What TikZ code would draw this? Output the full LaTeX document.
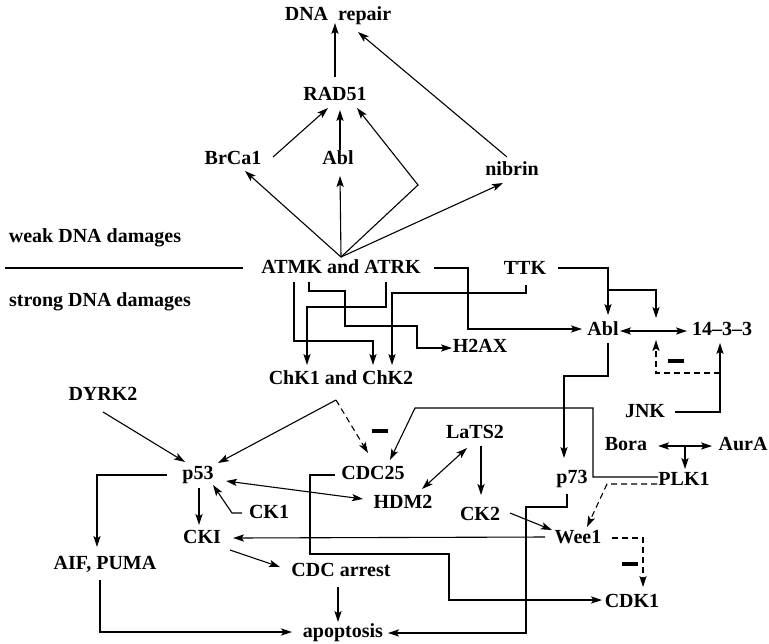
\documentclass[tikz,border=0pt]{standalone}
\usepackage{fontspec}
\setmainfont{Liberation Serif}
\usetikzlibrary{arrows.meta, calc}

\begin{document}
\begin{tikzpicture}[
    x=0.5pt, y=-0.5pt,
    >={Stealth[length=5.5pt, width=3.6pt, inset=1.2pt]},
    line width=0.55pt,
    gene/.style={font=\bfseries, inner sep=1.5pt, text height=7pt, text depth=2pt},
    zone/.style={gene, anchor=center},
    inhibit/.style={inner sep=0pt, font=\bfseries},
    neg/.style={dash pattern=on 3pt off 2pt},
]
\useasboundingbox (0,0) rectangle (769,643);

% ---- weak damage: repair branch ----
\node[gene] (dna)   at (338, 15)  {DNA\ \ repair};
\node[gene] (rad)   at (335, 95)  {RAD51};
\node[gene] (brca)  at (233,159)  {BrCa1};
\node[gene] (ablt)  at (338,159)  {Abl};
\node[gene] (nib)   at (512,170)  {nibrin};

\node[zone] (weak)   at ( 95,237) {weak DNA damages};
\node[zone] (strong) at (100,301) {strong DNA damages};

% ---- sensors ----
\node[gene] (atm)   at (341,268)  {ATMK and ATRK};
\node[gene] (ttk)   at (525,269)  {TTK};
\node[gene] (abl)   at (603,330)  {Abl};
\node[gene] (f1433) at (722,330)  {14--3--3};
\node[gene] (h2ax)  at (480,347)  {H2AX};
\node[gene] (chk)   at (341,379)  {ChK1 and ChK2};
\node[gene] (dyrk)  at (103,395)  {DYRK2};
\node[gene] (jnk)   at (645,412)  {JNK};
\node[gene] (lats)  at (475,433)  {LaTS2};
\node[gene] (bora)  at (626,445)  {Bora};
\node[gene] (aura)  at (743,445)  {AurA};

% ---- effectors ----
\node[gene] (p53)    at (198,474) {p53};
\node[gene] (cdc25)  at (373,474) {CDC25};
\node[gene] (p73)    at (572,478) {p73};
\node[gene] (plk)    at (684,480) {PLK1};
\node[gene] (hdm)    at (403,503) {HDM2};
\node[gene] (ck1)    at (269,513) {CK1};
\node[gene] (ck2)    at (480,515) {CK2};
\node[gene] (cki)    at (202,538) {CKI};
\node[gene] (wee)    at (578,538) {Wee1};
\node[gene] (aif)    at (105,564) {AIF, PUMA};
\node[gene] (arrest) at (341,571) {CDC arrest};
\node[gene] (cdk)    at (632,602) {CDK1};
\node[gene] (apo)    at (343,632) {apoptosis};

% ---- inhibition marks ----
\node[inhibit] (m1) at (380,431) {\rule{8pt}{1.7pt}};
\node[inhibit] (m2) at (676,361) {\rule{8pt}{1.7pt}};
\node[inhibit] (m3) at (630,564) {\rule{8pt}{1.7pt}};

% ---- divider ----
\draw ($(atm)+(-336,0)$) -- ($(atm)+(-98,0)$);

% ---- repair edges ----
\draw[->] ($(rad)+(0,-18)$) -- ($(dna)+(-3,8)$);
\draw[->] ($(nib)+(-5,-13)$) -- ($(dna)+(20,17)$);
\draw[->] ($(brca)+(40,-2)$) -- ($(rad)+(-7,13)$);
\draw[->] ($(ablt)+(2,-9)$) -- ($(rad)+(5,15)$);
\draw[->] ($(atm)+(0,-11)$) -- ($(brca)+(12,12)$);
\draw[->] ($(atm)+(0,-11)$) -- ($(ablt)+(2,17)$);
\draw[->] ($(atm)+(0,-11)$) -- ($(atm)+(77,-83)$) -- ($(rad)+(22,13)$);
\draw[->] ($(atm)+(0,-11)$) -- ($(nib)+(-9,13)$);

% ---- ATMK/ATRK and TTK downstream ----
\draw[->] ($(atm)+(-47,14)$) |- ($(chk)+(32,-38)$) -- ($(chk)+(32,-14)$);
\draw[->] ($(atm)+(-32,14)$) -- ++(0,9) -- ++(36,0) -- ++(0,35) -- ++(72,0)
    |- ($(h2ax)+(-28,1)$);
\draw[->] ($(atm)+(45,14)$) -- ++(0,25) -| ($(chk)+(-34,-14)$);
\draw[->] ($(ttk)+(1,16)$) -- ++(0,8) -| ($(chk)+(51,-14)$);
\draw[->] ($(atm)+(93,0)$) -- ++(34,0) |- ($(abl)+(-21,-1)$);
\draw[->] ($(ttk)+(33,-1)$) -| ($(abl)+(5,-15)$);
\draw[->] ($(abl)+(5,-40)$) -| ($(abl)+(53,-12)$);
\draw[<->] ($(abl)+(17,1)$) -- ($(f1433)+(-35,1)$);
\draw[->] ($(jnk)+(30,0)$) -| ($(f1433)+(-2,13)$);
\draw[->, neg] ($(f1433)+(-2,43)$) -| ($(abl)+(53,10)$);
\draw[->] ($(abl)+(5,13)$) -- ++(0,33) -| ($(p73)+(-8,-20)$);

% ---- PLK1 module ----
\draw[<->] ($(bora)+(32,1)$) -- ($(aura)+(-31,1)$);
\draw[->] ($(bora)+(59,1)$) -- ($(plk)+(1,-11)$);
\draw[->] ($(plk)+(-26,-3)$) -- ++(-65,0) |- ($(cdc25)+(42,-66)$)
    -- ($(cdc25)+(17,-14)$);
\draw[->, neg] ($(plk)+(-27,4)$) -- ++(-50,0) -- ($(wee)+(9,-11)$);

% ---- checkpoint kinases to p53 / CDC25 ----
\draw[->] ($(chk)+(-5,21)$) -- ($(p53)+(20,-11)$);
\draw[->, neg] ($(chk)+(-5,21)$) -- ($(cdc25)+(-5,-21)$);
\draw[->] ($(dyrk)+(0,17)$) -- ($(p53)+(-13,-12)$);

% ---- p53 network ----
\draw[->] ($(p53)+(-31,1)$) -| ($(aif)+(-8,-17)$);
\draw[->] ($(p53)+(1,14)$) -- ($(cki)+(-3,-13)$);
\draw[->] ($(ck1)+(-27,0)$) -- ++(-10,0) -- ($(p53)+(15,11)$);
\draw[<->] ($(p53)+(28,7)$) -- ($(hdm)+(-40,-4)$);
\draw[<->] ($(lats)+(-8,15)$) -- ($(hdm)+(19,-14)$);
\draw[->] ($(lats)+(6,13)$) -- ($(ck2)+(1,-20)$);
\draw[->] ($(ck2)+(30,-2)$) -- ($(wee)+(-26,-8)$);
\draw[->] ($(wee)+(-33,-1)$) -- ($(cki)+(31,0)$);
\draw[->, neg] ($(wee)+(34,0)$) -| ($(cdk)+(11,-15)$);
\draw[->] ($(cdc25)+(-38,1)$) -- ++(-25,0) -- ++(0,79) -- ++(139,0)
    |- ($(cdk)+(-30,-2)$);
\draw[->] ($(cki)+(28,12)$) -- ($(arrest)+(-61,-4)$);

% ---- towards apoptosis ----
\draw[->] ($(arrest)+(-3,16)$) -- ($(apo)+(-5,-10)$);
\draw[->] ($(aif)+(-5,16)$) |- ($(apo)+(-51,0)$);
\draw[->] ($(p73)+(-5,16)$) -- ++(0,13) -- ++(-41,0) |- ($(apo)+(45,1)$);

\end{tikzpicture}
\end{document}
